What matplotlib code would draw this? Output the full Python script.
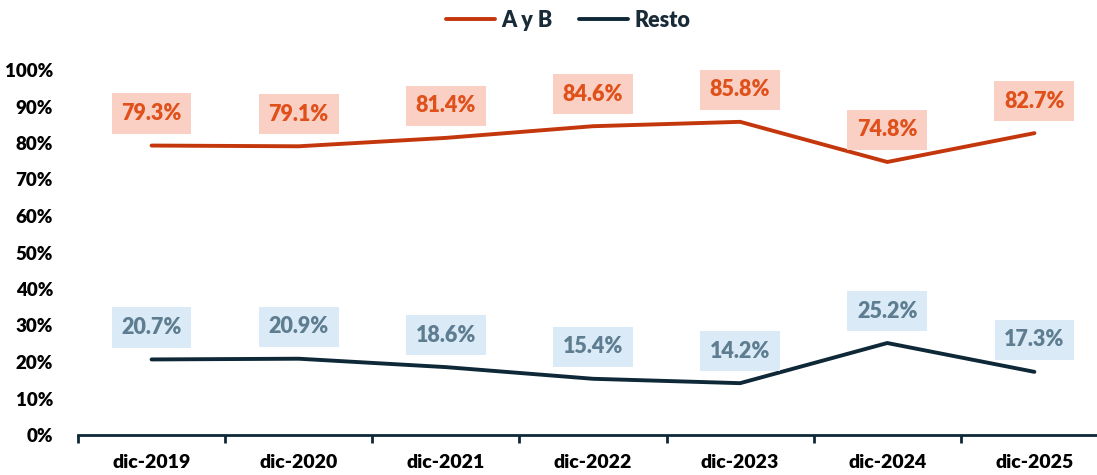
import matplotlib
matplotlib.use("Agg")
import matplotlib.pyplot as plt
from matplotlib.ticker import PercentFormatter, FixedLocator

categories = ["dic-2019", "dic-2020", "dic-2021", "dic-2022", "dic-2023", "dic-2024", "dic-2025"]
ayb = [79.3, 79.1, 81.4, 84.6, 85.8, 74.8, 82.7]
resto = [20.7, 20.9, 18.6, 15.4, 14.2, 25.2, 17.3]

plt.rcParams['font.family'] = ['Lato', 'DejaVu Sans']
W = 'heavy'

fig = plt.figure(figsize=(10.97, 4.75), dpi=100)
ax = fig.add_axes([78/1097, 40/475, 1 - 78/1097 + 0.01, (435-70)/475])

x = list(range(len(categories)))
c_or = "#C4360C"
c_dk = "#0E2838"
ax.plot(x, ayb, color=c_or, lw=2.8, solid_capstyle='round', label="A y B")
ax.plot(x, resto, color=c_dk, lw=2.8, solid_capstyle='round', label="Resto")

for xi, v in zip(x, ayb):
    ax.annotate(f"{v:.1f}%", (xi, v), xytext=(0, 32), textcoords="offset pixels",
                ha="center", va="center", fontsize=15.5, fontweight=W, color="#E0501A",
                bbox=dict(boxstyle="square,pad=0.45", fc="#F9D0C3", ec="none"))
for xi, v in zip(x, resto):
    ax.annotate(f"{v:.1f}%", (xi, v), xytext=(0, 32), textcoords="offset pixels",
                ha="center", va="center", fontsize=15.5, fontweight=W, color="#5F7D90",
                bbox=dict(boxstyle="square,pad=0.45", fc="#DAEBF7", ec="none"))

ax.set_ylim(0, 100)
ax.set_xlim(-0.5, 6.5)
ax.yaxis.set_major_locator(FixedLocator(range(0, 101, 10)))
ax.yaxis.set_major_formatter(PercentFormatter(decimals=0))
ax.set_xticks(x)
ax.set_xticklabels(categories)
ax.set_xticks([i - 0.5 for i in range(len(categories) + 1)], minor=True)
ax.tick_params(axis='x', which='major', length=0, pad=14, labelsize=14)
ax.tick_params(axis='x', which='minor', length=6, width=2, color=c_dk, direction='out')
ax.tick_params(axis='y', length=0, pad=18, labelsize=13.5)
for lab in ax.get_xticklabels() + ax.get_yticklabels():
    lab.set_fontweight(W)
    lab.set_color('black')
for s in ['top', 'right', 'left']:
    ax.spines[s].set_visible(False)
ax.spines['bottom'].set_color(c_dk)
ax.spines['bottom'].set_linewidth(2)

leg = fig.legend(loc="upper center", bbox_to_anchor=(0.518, 1.02), ncol=2, frameon=False,
                 prop={'weight': W, 'size': 15.5}, handlelength=2.3, columnspacing=1.2,
                 handletextpad=0.3)
for t in leg.get_texts():
    t.set_color('#1A2B38')

fig.savefig("out.png", dpi=100)
